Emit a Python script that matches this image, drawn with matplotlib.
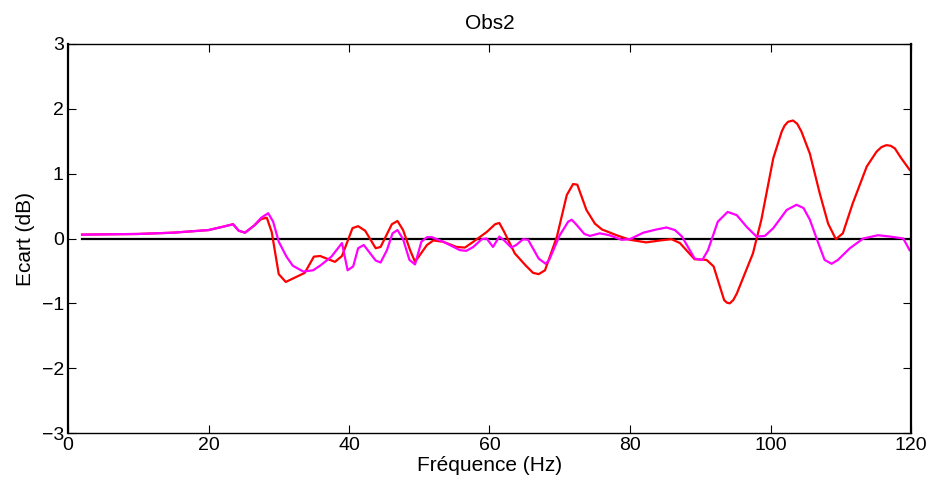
import matplotlib
matplotlib.use("Agg")
import matplotlib.pyplot as plt

plt.rcParams['font.family'] = ['Liberation Sans', 'DejaVu Sans']

title = "Obs2"
xlabel = "Fréquence (Hz)"
ylabel = "Ecart (dB)"
xticks = [0, 20, 40, 60, 80, 100, 120]
yticks = [-3, -2, -1, 0, 1, 2, 3]
zero_x = [2, 120]
zero_y = [0, 0]

red_f = [2, 10, 15, 20, 22, 23.5, 24.3, 25.2, 26.5, 27.5, 28.3, 29.0, 30.0, 31.0,
         33.7, 35.0, 35.9, 38.0, 39.0, 40.5, 41.3, 42.3, 43.8, 44.5, 46.1, 46.9,
         47.7, 48.7, 49.4, 51.1, 52.0, 53.4, 55.3, 56.5, 57.7, 59.6, 60.8, 61.4,
         62.1, 63.6, 65.1, 66.2, 67.0, 67.9, 69.6, 71.0, 71.9, 72.5, 73.8, 75.0,
         76.0, 78.1, 80.0, 82.3, 84.3, 85.9, 87.1, 89.2, 90.9, 91.9, 93.4, 93.8, 94.2,
         94.7, 95.2, 97.5, 98.7, 100.4, 101.6, 102.0, 102.5, 103.2, 103.8, 104.4, 105.6,
         107.0, 108.2, 109.3, 110.3, 111.7, 113.7, 115.1, 115.8, 116.5, 117.1, 117.7,
         118.6, 119.8]
red_v = [0.06, 0.07, 0.09, 0.13, 0.18, 0.22, 0.12, 0.09, 0.20, 0.30, 0.32, 0.10, -0.55, -0.67,
         -0.53, -0.28, -0.27, -0.36, -0.27, 0.16, 0.19, 0.12, -0.15, -0.13, 0.22, 0.27,
         0.13, -0.18, -0.36, -0.10, -0.03, -0.05, -0.13, -0.14, -0.05, 0.10, 0.22, 0.24,
         0.10, -0.23, -0.41, -0.53, -0.55, -0.49, 0.03, 0.67, 0.84, 0.83, 0.44, 0.23,
         0.14, 0.05, -0.02, -0.06, -0.03, -0.01, -0.07, -0.32, -0.33, -0.43, -0.95, -0.99, -1.00,
         -0.95, -0.85, -0.23, 0.29, 1.24, 1.65, 1.74, 1.80, 1.82, 1.77, 1.65, 1.31,
         0.70, 0.23, -0.01, 0.08, 0.54, 1.11, 1.34, 1.41, 1.44, 1.43, 1.39,
         1.24, 1.06]

mag_f = [2, 10, 15, 20, 22, 23.5, 24.3, 25.2, 26.5, 27.5, 28.5, 29.2, 30.0, 31.1,
         32.0, 33.5, 34.9, 36.0, 37.5, 39.0, 39.8, 40.6, 41.3, 42.1, 43.8, 44.5,
         45.4, 46.2, 46.9, 47.7, 48.6, 49.4, 50.3, 51.1, 51.8, 53.4, 55.8, 56.7,
         57.7, 58.9, 59.6, 60.5, 61.4, 62.1, 63.1, 63.8, 64.8, 65.5, 67.0, 68.0,
         68.5, 70.0, 71.2, 71.7, 72.4, 73.5, 74.3, 75.7, 77.1, 78.8, 80.0, 81.9,
         83.8, 85.2, 86.4, 87.4, 89.2, 90.3, 91.1, 92.5, 93.9, 95.2, 96.6, 98.0,
         99.2, 100.4, 102.3, 103.7, 104.7, 105.6, 106.8, 107.7, 108.7, 109.6,
         111.3, 113.2, 115.3, 117.0, 118.9, 119.8]
mag_v = [0.06, 0.07, 0.09, 0.13, 0.18, 0.22, 0.12, 0.09, 0.20, 0.32, 0.39, 0.26, -0.05, -0.28,
         -0.42, -0.51, -0.49, -0.41, -0.28, -0.07, -0.49, -0.43, -0.15, -0.10, -0.34, -0.37,
         -0.18, 0.08, 0.13, -0.01, -0.33, -0.40, -0.05, 0.02, 0.02, -0.05, -0.18, -0.19,
         -0.13, -0.01, 0.00, -0.13, 0.03, -0.03, -0.14, -0.10, -0.01, -0.02, -0.31, -0.39,
         -0.33, 0.05, 0.26, 0.29, 0.21, 0.07, 0.04, 0.08, 0.05, -0.02, -0.01, 0.09,
         0.14, 0.17, 0.13, 0.03, -0.31, -0.33, -0.18, 0.26, 0.41, 0.36, 0.18, 0.03,
         0.04, 0.16, 0.44, 0.52, 0.47, 0.29, -0.07, -0.33, -0.39, -0.33,
         -0.15, 0.00, 0.05, 0.03, 0.00, -0.18]

fig = plt.figure(figsize=(9.35, 4.87), dpi=100)
ax = fig.add_axes([68/935, 54/487, (911-68)/935, (433-44)/487])

ax.plot(zero_x, zero_y, color='black', lw=1.6)
ax.plot(red_f, red_v, color='#ff0000', lw=1.6)
ax.plot(mag_f, mag_v, color='#ff00ff', lw=1.6)

ax.set_xlim(0, 120)
ax.set_ylim(-3, 3)
ax.set_xticks(xticks)
ax.set_yticks(yticks)
ax.set_yticklabels([str(t).replace('-', '\u2212') for t in yticks])
ax.tick_params(direction='in', length=6, width=0.8, labelsize=14, top=True, right=True,
               pad=3)
for side in ['left', 'right']:
    ax.spines[side].set_linewidth(1.6)
for side in ['top', 'bottom']:
    ax.spines[side].set_linewidth(1.0)

ax.set_title(title, fontsize=15, pad=11)
ax.set_xlabel(xlabel, fontsize=15, labelpad=1)
ax.set_ylabel(ylabel, fontsize=15, labelpad=5)

fig.savefig("out.png", dpi=100)
